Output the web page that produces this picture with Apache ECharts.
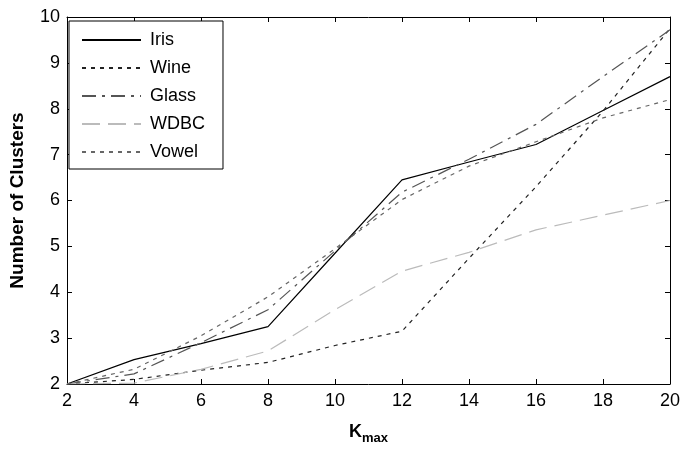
<!DOCTYPE html>
<html>
<head>
<meta charset="utf-8">
<script src="https://cdn.jsdelivr.net/npm/echarts@6/dist/echarts.min.js"></script>
<style>
  html, body { margin: 0; padding: 0; background: #fff; }
  #chart { width: 683px; height: 450px; }
</style>
</head>
<body>
<div id="chart"></div>
<script>
// K_max values on the x axis
const kmax = [2, 4, 6, 8, 10, 12, 14, 16, 18, 20]

// number of clusters
const iris  = [2.0, 2.53, 2.88, 3.25, 4.85, 6.45, 6.84, 7.22, 7.96, 8.7]
const wine  = [2.0, 2.1, 2.3, 2.47, 2.84, 3.15, 4.74, 6.3, 7.95, 9.75]
const glass = [2.0, 2.22, 2.9, 3.62, 4.9, 6.18, 6.9, 7.66, 8.7, 9.72]
const wdbc  = [2.0, 2.02, 2.32, 2.72, 3.62, 4.46, 4.87, 5.36, 5.68, 6.0]
const vowel = [2.0, 2.32, 3.05, 3.9, 4.95, 6.02, 6.75, 7.28, 7.8, 8.2]

const names = ['Iris', 'Wine', 'Glass', 'WDBC', 'Vowel']

const font = 'Liberation Sans, Arial, sans-serif'

function pairs(vals) {
  return kmax.map((k, i) => [k, vals[i]])
}

function lineSeries(name, vals, color, type) {
  return {
    name: name,
    type: 'line',
    data: pairs(vals),
    symbol: 'none',
    silent: true,
    lineStyle: { color: color, width: 1.2, type: type },
    itemStyle: { color: color }
  }
}

const chart = echarts.init(document.getElementById('chart'))

const axisCommon = {
  axisLine: { lineStyle: { color: '#000', width: 1 } },
  axisTick: { inside: true, length: 5, lineStyle: { color: '#000' } },
  splitLine: { show: false }
}

chart.setOption({
  animation: false,
  grid: { left: 64, right: 10, top: 17, bottom: 58 },
  legend: {
    data: names,
    orient: 'vertical',
    left: 69,
    top: 21,
    padding: [10, 18, 8, 12],
    itemWidth: 59,
    itemHeight: 14,
    itemGap: 10,
    borderColor: '#000',
    borderWidth: 1,
    backgroundColor: '#fff',
    itemStyle: { color: 'transparent', borderWidth: 0 },
    textStyle: { fontFamily: font, fontSize: 18, color: '#000', lineHeight: 18, padding: [0, 0, 0, 4] }
  },
  xAxis: [
    Object.assign({
      type: 'value', min: 2, max: 20, interval: 2, position: 'bottom',
      name: '{k|K}{s|max}',
      nameLocation: 'middle',
      nameGap: 36,
      nameTextStyle: {
        rich: {
          k: { fontFamily: font, fontSize: 18, fontWeight: 'bold', color: '#000' },
          s: { fontFamily: font, fontSize: 13, fontWeight: 'bold', color: '#000', padding: [12, 0, 0, 0] }
        }
      },
      axisLabel: { fontFamily: font, fontSize: 18, color: '#000', margin: 8 }
    }, axisCommon),
    Object.assign({
      type: 'value', min: 2, max: 20, interval: 2, position: 'top',
      axisLabel: { show: false }
    }, axisCommon)
  ],
  yAxis: [
    Object.assign({
      type: 'value', min: 2, max: 10, interval: 1, position: 'left',
      name: 'Number of Clusters',
      nameLocation: 'middle',
      nameGap: 40,
      nameTextStyle: { fontFamily: font, fontSize: 19, fontWeight: 'bold', color: '#000' },
      axisLabel: { fontFamily: font, fontSize: 18, color: '#000', margin: 7 }
    }, axisCommon),
    Object.assign({
      type: 'value', min: 2, max: 10, interval: 1, position: 'right',
      axisLabel: { show: false }
    }, axisCommon)
  ],
  series: [
    lineSeries('Iris', iris, '#000000', 'solid'),
    lineSeries('Wine', wine, '#222222', [4, 5]),
    lineSeries('Glass', glass, '#555555', [14, 6, 3, 6]),
    lineSeries('WDBC', wdbc, '#bbbbbb', [18, 8]),
    lineSeries('Vowel', vowel, '#666666', [4, 5])
  ]
})
</script>
</body>
</html>
